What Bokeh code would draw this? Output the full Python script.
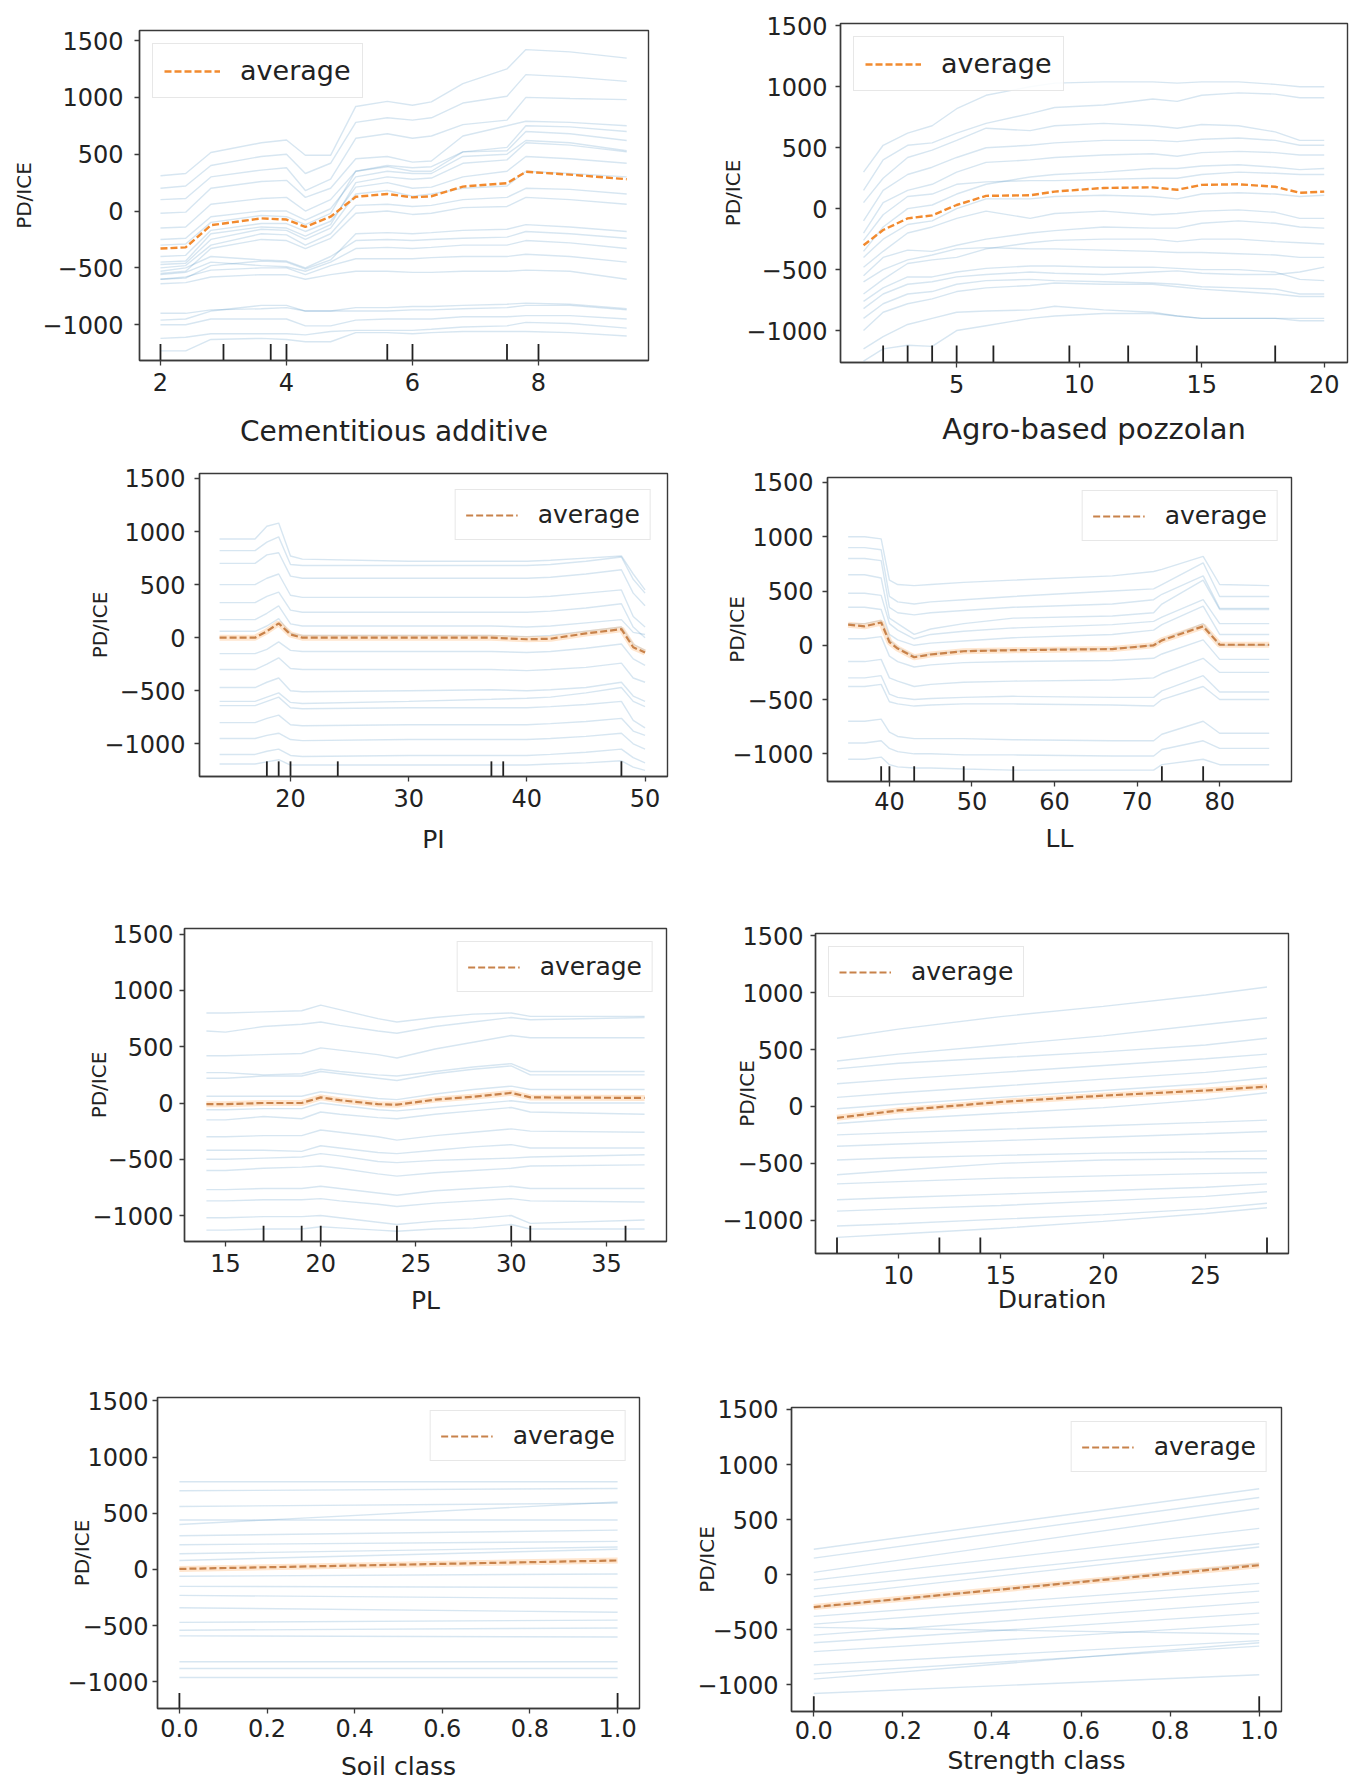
from jinja2 import Template
from bokeh.plotting import figure
from bokeh.models import Range1d, FixedTicker, Legend, LegendItem
from bokeh.embed import file_html
from bokeh.resources import INLINE

# ---------------- data ----------------
y_ticks = [-1000, -500, 0, 500, 1000, 1500]

# Cementitious additive
ca_x = [2.0, 2.4, 2.8, 3.6, 4.0, 4.3, 4.7, 5.1, 5.6, 6.0, 6.3, 6.8, 7.5, 7.8, 8.5, 9.4]
ca_avg = [-330, -320, -125, -65, -75, -140, -50, 125, 150, 120, 130, 215, 245, 345, 320, 280]
ca_rug = [2.0, 3.0, 3.75, 4.0, 5.6, 6.0, 7.5, 8.0]
ca_ice = [
    [310, 330, 515, 600, 625, 490, 490, 920, 965, 930, 960, 1120, 1250, 1420, 1400, 1345],
    [200, 220, 400, 480, 500, 330, 420, 780, 820, 800, 820, 950, 1010, 1200, 1180, 1140],
    [100, 110, 300, 360, 380, 180, 280, 640, 680, 640, 660, 760, 800, 1000, 990, 980],
    [-20, -10, 200, 260, 270, 120, 200, 460, 480, 430, 440, 660, 750, 790, 780, 750],
    [-150, -140, 60, 110, 120, 0, 100, 350, 390, 350, 350, 520, 530, 700, 680, 620],
    [-250, -240, -50, 0, 0, -80, 20, 300, 350, 330, 330, 480, 500, 620, 600, 530],
    [-300, -290, -100, -40, -50, -120, -20, 350, 400, 380, 390, 520, 560, 750, 740, 700],
    [-400, -390, -170, -110, -110, -180, -90, 210, 250, 200, 210, 300, 350, 480, 460, 420],
    [-450, -440, -200, -140, -150, -220, -120, 250, 300, 280, 290, 420, 450, 600, 580, 520],
    [-470, -460, -250, -160, -170, -250, -150, 150, 180, 130, 150, 200, 220, 350, 330, 300],
    [-500, -480, -300, -200, -210, -300, -200, 50, 60, 40, 50, 100, 120, 200, 190, 150],
    [-550, -530, -330, -250, -260, -330, -240, -20, 0, -30, -20, 30, 40, 120, 100, 60],
    [-530, -500, -400, -430, -440, -500, -400, -260, -250, -260, -250, -240, -230, -180, -200, -240],
    [-560, -540, -450, -480, -490, -530, -450, -330, -320, -330, -320, -300, -300, -260, -280, -330],
    [-600, -590, -480, -440, -450, -510, -430, -200, -190, -200, -190, -170, -160, -120, -140, -180],
    [-600, -580, -520, -500, -500, -560, -480, -420, -420, -420, -410, -400, -400, -380, -400, -450],
    [-640, -630, -580, -560, -560, -600, -560, -530, -530, -540, -540, -530, -530, -520, -530, -600],
    [-900, -900, -870, -860, -850, -880, -880, -880, -880, -870, -870, -860, -850, -830, -830, -870],
    [-960, -950, -880, -830, -830, -880, -880, -850, -850, -840, -840, -830, -820, -810, -820, -860],
    [-1000, -1000, -950, -950, -950, -1010, -1010, -960, -950, -950, -950, -930, -930, -920, -920, -950],
    [-1120, -1110, -1080, -1080, -1080, -1090, -1060, -1050, -1050, -1050, -1040, -1020, -1010, -980, -990, -1030],
    [-1230, -1230, -1130, -1120, -1130, -1150, -1150, -1070, -1070, -1080, -1070, -1060, -1060, -1060, -1070, -1100],
]

# Agro-based pozzolan
ag_x = [1.2, 2.0, 3.0, 4.0, 5.0, 6.2, 8.0, 9.0, 11.0, 13.0, 14.0, 15.0, 16.5, 18.0, 19.0, 20.0]
ag_avg = [-300, -175, -80, -55, 30, 105, 110, 140, 170, 175, 155, 195, 200, 180, 130, 140]
ag_rug = [2, 3, 4, 5, 6.5, 9.6, 12, 14.8, 18]
ag_ice = [
    [300, 520, 620, 680, 820, 930, 1000, 1030, 1040, 1040, 1030, 1040, 1040, 1020, 1000, 1000],
    [150, 400, 520, 540, 620, 700, 780, 830, 850, 900, 880, 930, 950, 940, 910, 910],
    [50, 250, 420, 480, 560, 660, 640, 680, 700, 680, 660, 690, 680, 630, 560, 560],
    [-100, 150, 280, 340, 420, 500, 520, 540, 560, 560, 550, 570, 580, 560, 520, 520],
    [-200, 50, 150, 200, 300, 380, 400, 420, 440, 450, 430, 460, 470, 460, 440, 440],
    [-350, -150, 0, 30, 120, 200, 260, 280, 300, 330, 330, 350, 360, 340, 320, 330],
    [-260, -50, 100, 120, 200, 220, 230, 230, 240, 250, 250, 280, 300, 290, 280, 280],
    [-400, -250, -130, -100, 0, 80, 80, 100, 110, 100, 80, 120, 130, 120, 100, 110],
    [-480, -350, -200, -150, -80, -20, -80, -40, -20, -50, -40, -20, -10, -30, -80, -80],
    [-550, -400, -340, -350, -300, -250, -200, -180, -150, -160, -160, -120, -100, -120, -150, -160],
    [-700, -580, -450, -420, -400, -330, -280, -260, -250, -250, -270, -250, -250, -270, -280, -290],
    [-600, -500, -420, -380, -330, -320, -330, -330, -340, -350, -360, -360, -370, -380, -400, -400],
    [-760, -650, -560, -560, -520, -490, -470, -470, -480, -480, -490, -500, -500, -520, -580, -590],
    [-820, -700, -620, -600, -560, -540, -520, -530, -540, -520, -510, -530, -540, -540, -520, -480],
    [-900, -780, -700, -680, -620, -590, -580, -590, -600, -610, -620, -640, -650, -660, -700, -700],
    [-1000, -850, -780, -740, -680, -650, -630, -610, -620, -620, -640, -660, -680, -700, -720, -720],
    [-1150, -1050, -950, -900, -850, -840, -830, -800, -830, -850, -880, -900, -900, -900, -920, -920],
    [-1250, -1150, -1120, -1130, -1000, -960, -900, -880, -860, -860, -880, -900, -900, -900, -900, -900],
]

# PI
pi_x = [14, 17, 18, 19, 20, 21, 30, 37, 40, 42, 45, 48, 49, 50]
pi_avg = [0, 0, 60, 135, 30, 0, 0, 0, -15, -10, 40, 80, -90, -140]
pi_rug = [18, 19, 20, 24, 37, 38, 48]
pi_ice = [
    [930, 930, 1050, 1080, 770, 740, 720, 720, 720, 730, 750, 770, 600, 450],
    [820, 820, 900, 950, 690, 680, 680, 680, 680, 690, 720, 760, 550, 420],
    [700, 700, 780, 800, 580, 560, 560, 560, 560, 570, 600, 640, 420, 300],
    [500, 500, 560, 600, 400, 380, 380, 380, 380, 390, 420, 450, 200, 100],
    [330, 330, 390, 430, 260, 240, 240, 240, 240, 250, 280, 320, 100, 0],
    [170, 170, 230, 300, 130, 110, 110, 110, 100, 110, 140, 170, 50, 30],
    [60, 60, 110, 180, 40, 20, 20, 20, 10, 20, 60, 100, -60, -120],
    [-150, -150, -110, -40, -120, -130, -130, -130, -140, -130, -100, -60, -200, -260],
    [-300, -300, -250, -190, -290, -300, -300, -300, -310, -300, -280, -240, -380, -420],
    [-470, -470, -420, -380, -500, -510, -500, -490, -500, -490, -470, -420, -550, -600],
    [-600, -600, -560, -520, -610, -620, -600, -580, -570, -560, -520, -470, -600, -650],
    [-640, -640, -600, -560, -660, -670, -660, -660, -660, -650, -630, -600, -780, -850],
    [-800, -800, -760, -730, -820, -830, -820, -820, -820, -810, -790, -760, -880, -920],
    [-950, -950, -920, -900, -960, -970, -960, -960, -960, -950, -930, -900, -1000, -1050],
    [-1100, -1100, -1070, -1050, -1110, -1120, -1110, -1110, -1110, -1100, -1080, -1050, -1130, -1180],
    [-1190, -1190, -1170, -1150, -1200, -1200, -1200, -1200, -1200, -1190, -1180, -1160, -1220, -1250],
]

# LL
ll_x = [35, 37, 39, 40, 41, 43, 45, 49, 55, 67, 72, 73, 78, 80, 86]
ll_avg = [190, 175, 210, 30, -30, -110, -85, -55, -45, -35, 0, 45, 175, 5, 5]
ll_rug = [39, 40, 43, 49, 55, 73, 78]
ll_ice = [
    [1000, 1000, 980, 600, 560, 550, 560, 580, 600, 640, 680, 700, 820, 560, 550],
    [900, 900, 880, 450, 400, 380, 400, 420, 450, 500, 520, 560, 760, 450, 450],
    [800, 800, 780, 350, 300, 280, 300, 320, 350, 380, 420, 470, 640, 340, 340],
    [650, 650, 620, 250, 200, 100, 150, 200, 250, 270, 300, 380, 600, 330, 330],
    [480, 480, 460, 200, 140, 60, 100, 130, 160, 190, 220, 260, 420, 200, 200],
    [350, 350, 330, 100, 50, 0, 20, 40, 70, 100, 140, 190, 360, 100, 100],
    [200, 200, 230, 50, -20, -100, -80, -50, -40, -30, 0, 50, 200, 0, 0],
    [60, 60, 80, -100, -150, -200, -180, -160, -150, -140, -120, -80, 50, -130, -130],
    [-150, -150, -130, -300, -330, -380, -360, -340, -330, -320, -300, -260, -120, -250, -250],
    [-300, -300, -280, -450, -480, -500, -490, -480, -470, -480, -480, -420, -280, -430, -430],
    [-380, -380, -360, -520, -540, -560, -550, -540, -540, -550, -560, -500, -380, -500, -500],
    [-700, -700, -680, -800, -840, -860, -860, -860, -870, -880, -880, -820, -700, -810, -810],
    [-900, -900, -880, -950, -980, -1000, -1000, -1010, -1010, -1020, -1020, -960, -880, -950, -950],
    [-1050, -1050, -1030, -1100, -1120, -1130, -1130, -1140, -1150, -1150, -1150, -1100, -1050, -1100, -1100],
]

# PL
pl_x = [14, 15, 17, 19, 20, 21, 23, 24, 26, 28, 30, 31, 37]
pl_avg = [-10, -10, 0, 0, 50, 25, -10, -15, 30, 55, 90, 50, 45]
pl_rug = [17, 19, 20, 24, 30, 31, 36]
pl_ice = [
    [800, 800, 810, 820, 870, 830, 750, 720, 760, 790, 800, 770, 770],
    [640, 630, 680, 700, 720, 690, 640, 620, 680, 720, 760, 740, 760],
    [420, 420, 430, 440, 490, 470, 430, 400, 480, 540, 600, 580, 580],
    [270, 270, 250, 260, 300, 280, 250, 240, 280, 320, 350, 280, 280],
    [220, 220, 240, 240, 280, 260, 220, 200, 260, 300, 330, 250, 250],
    [60, 60, 60, 60, 100, 80, 40, 30, 80, 120, 150, 120, 120],
    [-60, -60, -50, -50, 0, -20, -60, -70, -40, -10, 20, 0, 0],
    [-150, -150, -120, -140, -80, -100, -130, -140, -100, -70, -40, -80, -100],
    [-300, -300, -290, -290, -240, -260, -300, -330, -290, -260, -230, -250, -260],
    [-420, -420, -420, -430, -380, -400, -440, -450, -420, -390, -370, -400, -400],
    [-500, -500, -490, -480, -450, -470, -520, -530, -510, -500, -490, -480, -460],
    [-600, -600, -580, -570, -560, -580, -630, -650, -620, -600, -580, -560, -550],
    [-770, -770, -760, -760, -740, -760, -800, -820, -780, -760, -740, -760, -760],
    [-870, -870, -860, -860, -850, -870, -900, -920, -890, -870, -850, -870, -880],
    [-1020, -1020, -1010, -1010, -1000, -1020, -1060, -1080, -1050, -1030, -1000, -1070, -1040],
    [-1130, -1130, -1120, -1120, -1100, -1110, -1130, -1140, -1120, -1110, -1080, -1120, -1120],
]

# Duration
du_x = [7, 10, 15, 20, 25, 28]
du_avg = [-100, -35, 40, 95, 140, 175]
du_rug = [7, 12, 14, 28]
du_ice = [
    [600, 680, 790, 880, 980, 1050],
    [400, 460, 540, 620, 720, 780],
    [330, 380, 430, 480, 540, 600],
    [200, 240, 300, 360, 420, 460],
    [80, 120, 180, 240, 300, 350],
    [-20, 20, 80, 140, 200, 250],
    [-150, -110, -60, -10, 60, 120],
    [-250, -230, -200, -170, -140, -120],
    [-350, -330, -300, -270, -240, -220],
    [-470, -450, -430, -410, -400, -390],
    [-600, -560, -500, -470, -460, -460],
    [-680, -660, -630, -610, -590, -580],
    [-820, -800, -770, -740, -710, -680],
    [-920, -900, -870, -830, -790, -750],
    [-1050, -1030, -990, -950, -900, -850],
    [-1150, -1120, -1070, -1010, -940, -890],
]

# Soil class
so_x = [0.0, 1.0]
so_avg = [5, 80]
so_rug = [0.0, 1.0]
so_ice = [
    [780, 780], [700, 720], [560, 590], [400, 600], [440, 440], [300, 350],
    [220, 250], [140, 200], [80, 180], [-60, -40], [-150, -160], [-230, -260],
    [-340, -380], [-470, -450], [-540, -520], [-590, -600], [-820, -820],
    [-880, -880], [-960, -960],
]

# Strength class
st_x = [0.0, 1.0]
st_avg = [-295, 85]
st_rug = [0.0, 1.0]
st_ice = [
    [230, 780], [150, 700], [20, 600], [-50, 420], [-130, 280], [-200, 250],
    [-300, 100], [-380, -80], [-450, -150], [-480, -540], [-550, -250],
    [-620, -350], [-700, -450], [-820, -600], [-900, -650], [-950, -620],
    [-1080, -910],
]

unit_ticks = [0.0, 0.2, 0.4, 0.6, 0.8, 1.0]
unit_labels = {0.0: "0.0", 0.2: "0.2", 0.4: "0.4", 0.6: "0.6", 0.8: "0.8", 1.0: "1.0"}

# ---------------- styling / layout ----------------
FONT = "DejaVu Sans"
ICE_COLOR = "#1f77b4"
AXIS_COLOR = "#3a3a3a"
TEXT_COLOR = "#222222"


def panel(name, xk, ice, avg, rug, xlabel, xticks, xr, yr, geo, ax, leg, row1):
    W, H, L, R, T, B = geo
    yso, ylso, xso, xlso, xl_fs = ax
    loc, lmargin, lfs, lpad, lglyph, lstand = leg
    p = figure(width=W, height=H, x_range=Range1d(*xr), y_range=Range1d(*yr),
               output_backend="svg", toolbar_location=None, name=name,
               min_border_left=L, min_border_right=R, min_border_top=T, min_border_bottom=B,
               background_fill_color="white", border_fill_color="white")
    p.grid.visible = False
    p.outline_line_color = AXIS_COLOR
    p.outline_line_width = 1.4

    p.multi_line(xs=[xk] * len(ice), ys=ice, line_color=ICE_COLOR, line_alpha=0.18, line_width=1.4)

    y0 = yr[0]
    y1 = yr[0] + 0.05 * (yr[1] - yr[0])
    p.segment(x0=rug, y0=[y0] * len(rug), x1=rug, y1=[y1] * len(rug),
              line_color="#222222", line_width=1.8)

    if not row1:
        p.line(xk, avg, line_color="#ff9a40", line_alpha=0.25, line_width=6)
        r = p.line(xk, avg, line_color="#c8824a", line_width=2.2, line_dash="7 3")
    else:
        r = p.line(xk, avg, line_color="#f28a2e", line_width=2.4, line_dash="7 3")

    for a in (p.xaxis[0], p.yaxis[0]):
        a.axis_line_color = AXIS_COLOR
        a.axis_line_width = 1.4
        a.major_tick_line_color = AXIS_COLOR
        a.major_tick_line_width = 1.3
        a.major_tick_in = 0
        a.major_tick_out = 5
        a.minor_tick_line_color = None
        a.major_label_text_font = FONT
        a.major_label_text_font_size = "24px"
        a.major_label_text_color = TEXT_COLOR
        a.axis_label_text_font = FONT
        a.axis_label_text_font_style = "normal"
        a.axis_label_text_color = TEXT_COLOR

    p.yaxis[0].ticker = FixedTicker(ticks=y_ticks)
    p.yaxis[0].major_label_overrides = {-1000: "\u22121000", -500: "\u2212500"}
    p.yaxis[0].major_label_standoff = yso
    p.yaxis[0].axis_label = "PD/ICE"
    p.yaxis[0].axis_label_text_font_size = "20px"
    p.yaxis[0].axis_label_standoff = ylso

    p.xaxis[0].ticker = FixedTicker(ticks=xticks)
    if xticks == unit_ticks:
        p.xaxis[0].major_label_overrides = unit_labels
    p.xaxis[0].major_label_standoff = xso
    p.xaxis[0].axis_label = xlabel
    p.xaxis[0].axis_label_text_font_size = f"{xl_fs}px"
    p.xaxis[0].axis_label_standoff = xlso

    legend = Legend(items=[LegendItem(label="average", renderers=[r])], location=loc)
    legend.margin = lmargin
    legend.padding = lpad
    legend.spacing = 0
    legend.glyph_width = lglyph
    legend.glyph_height = 20
    legend.label_standoff = lstand
    legend.label_text_font = FONT
    legend.label_text_font_size = f"{lfs}px"
    legend.label_text_color = TEXT_COLOR
    legend.border_line_color = "#cfcfcf"
    legend.border_line_width = 1
    legend.background_fill_color = "white"
    legend.background_fill_alpha = 0.85
    p.add_layout(legend)
    return p


LEG1 = (27, 11, 56, 20)
LEG2 = (25, 10, 52, 20)

p1 = panel("p1", ca_x, ca_ice, ca_avg, ca_rug, "Cementitious additive", [2, 4, 6, 8],
           (1.667, 9.746), (-1315, 1588), (662, 442, 131, 22, 22, 88),
           (11, 3, 7, 21, 28), ("top_left", 13) + LEG1, True)
p2 = panel("p2", ag_x, ag_ice, ag_avg, ag_rug, "Agro-based pozzolan", [5, 10, 15, 20],
           (0.26, 20.95), (-1262, 1519), (681, 442, 170, 4, 15, 88),
           (8, -2, 7, 16, 29), ("top_left", 13) + LEG1, True)
p3 = panel("p3", pi_x, pi_ice, pi_avg, pi_rug, "PI", [20, 30, 40, 50],
           (12.3, 51.9), (-1308, 1547), (662, 455, 191, 3, 23, 129),
           (9, -11, 7, 15, 25), ("top_right", 16) + LEG2, False)
p4 = panel("p4", ll_x, ll_ice, ll_avg, ll_rug, "LL", [40, 50, 60, 70, 80],
           (32.5, 88.7), (-1255, 1546), (681, 455, 157, 60, 27, 124),
           (9, -20, 5, 11, 25), ("top_right", 13) + LEG2, False)
p5 = panel("p5", pl_x, pl_ice, pl_avg, pl_rug, "PL", [15, 20, 25, 30, 35],
           (12.85, 38.15), (-1231, 1551), (662, 460, 176, 4, 23, 124),
           (6, -22, 7, 11, 25), ("top_right", 13) + LEG2, False)
p6 = panel("p6", du_x, du_ice, du_avg, du_rug, "Duration", [10, 15, 20, 25],
           (5.95, 29.05), (-1292, 1520), (681, 460, 145, 63, 28, 112),
           (7, -40, 7, -2, 25), ("top_left", 13) + LEG2, False)
p7 = panel("p7", so_x, so_ice, so_avg, so_rug, "Soil class", unit_ticks,
           (-0.05, 1.05), (-1236, 1529), (662, 418, 149, 31, 32, 73),
           (4, -30, 5, 12, 25), ("top_right", 13) + LEG2, False)
p8 = panel("p8", st_x, st_ice, st_avg, st_rug, "Strength class", unit_ticks,
           (-0.05, 1.05), (-1244, 1518), (681, 418, 121, 70, 42, 72),
           (8, -25, 4, 4, 25), ("top_right", 14) + LEG2, False)

# page position (left, top) of each figure
cells = {
    "p1": (8, 8), "p2": (670, 8),
    "p3": (8, 450), "p4": (670, 450),
    "p5": (8, 905), "p6": (670, 905),
    "p7": (8, 1365), "p8": (670, 1365),
}

TEMPLATE = Template("""{% from macros import embed %}
<!DOCTYPE html>
<html lang="en">
<head>
<meta charset="utf-8">
<title>{{ title }}</title>
<style>
html, body { margin: 0; padding: 0; background: white; }
.cell { position: absolute; }
</style>
{{ bokeh_css if bokeh_css }}
{{ bokeh_js if bokeh_js }}
</head>
<body>
{% for doc in docs %}
{% for root in doc.roots %}
<div class="cell" style="left: {{ cells[root.name][0] }}px; top: {{ cells[root.name][1] }}px;">
{{ embed(root) }}
</div>
{% endfor %}
{% endfor %}
{{ plot_script }}
</body>
</html>
""")

html = file_html([p1, p2, p3, p4, p5, p6, p7, p8], INLINE, title="PD/ICE",
                 template=TEMPLATE, template_variables={"cells": cells})
with open("out.html", "w") as f:
    f.write(html)
